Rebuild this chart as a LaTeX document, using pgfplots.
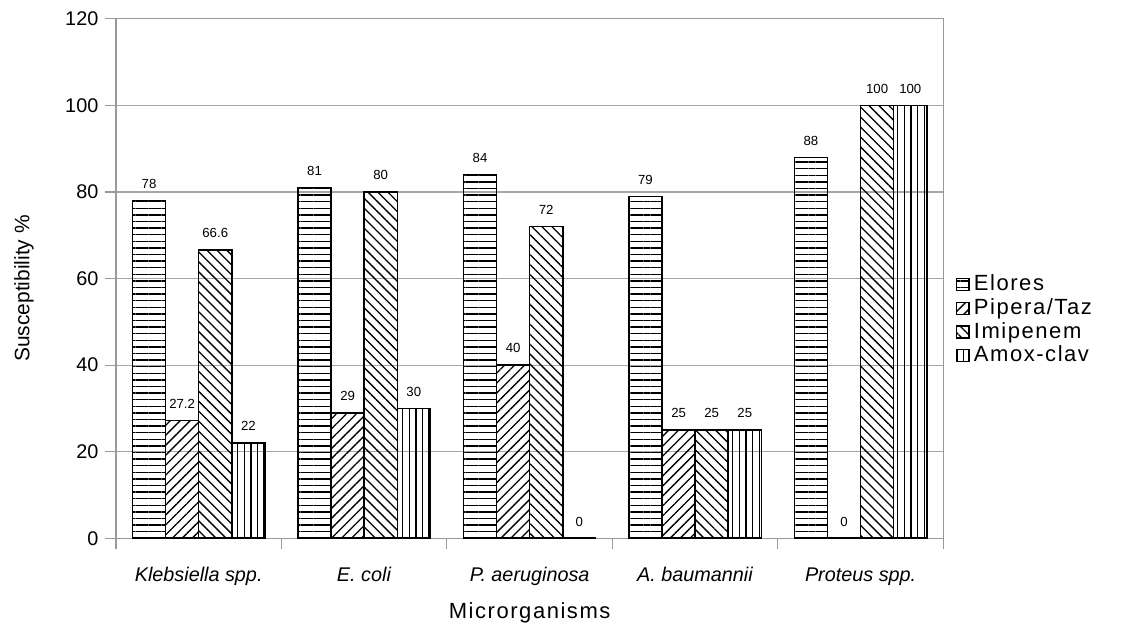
\documentclass[border=0pt]{standalone}
\usepackage{pgfplots}
\pgfplotsset{compat=1.18}
\usepackage{fontspec}
\setmainfont{Liberation Sans}
\newfontfamily\spaced[LetterSpace=7]{Liberation Sans}
\usetikzlibrary{patterns.meta}

\begin{document}
\begin{tikzpicture}
	\begin{axis}[
	name=ax,
	width=376pt, height=236pt,
	scale only axis,
	ymin=0, ymax=120,
	ytick={0,20,40,60,80,100,120},
	xmin=-0.5, xmax=4.5,
	xtick={0,1,2,3,4},
	xticklabels={\textit{Klebsiella spp.}, \textit{E. coli}, \textit{P. aeruginosa}, \textit{A. baumannii}, \textit{Proteus spp.}},
	major x tick style={draw=none},
	minor xtick={-0.5,0.5,1.5,2.5,3.5,4.5},
	minor tick length=5pt,
	major tick length=5pt,
	tick align=outside,
	tick style={gray!80, line width=0.5pt},
	axis line style={gray!80, line width=0.5pt},
	ymajorgrids=true,
	grid style={gray!70, line width=0.5pt},
	xtick pos=bottom, ytick pos=left,
	ticklabel style={font=\fontsize{9}{10}\selectfont},
	/pgf/number format/assume math mode=true,
	xticklabel style={yshift=-4pt, text height=7pt, text depth=2pt},
	yticklabel style={xshift=0.5pt},
	xlabel={\spaced Microrganisms},
	ylabel={Susceptibility \%},
	xlabel style={font=\fontsize{10}{11}\selectfont, yshift=-1pt},
	ylabel style={font=\fontsize{9.5}{11}\selectfont, at={(ticklabel cs:0.481)}, yshift=7.5pt},
	ybar=0pt,
	bar width=0.2,
	nodes near coords,
	nodes near coords style={font=\fontsize{6}{7}\selectfont, yshift=1.8pt},
	/pgf/number format/.cd, fixed, precision=1, assume math mode=true, /pgfplots/.cd,
	every axis plot/.append style={draw=black, line width=0.7pt},
	legend style={at={(1.012,0.42)}, anchor=west, draw=none, fill=none,
		font=\fontsize{10}{11}\selectfont\spaced, row sep=-2pt, inner sep=1pt},
	legend cell align=left,
	legend image code/.code={\draw[#1, line width=0.6pt] (0pt,-2.7pt) rectangle (5.6pt,2.7pt);},
	]

	\addplot [bar shift=-0.3, pattern={Lines[angle=0, distance=3pt, line width=0.6pt]}]
	coordinates {(0,78) (1,81) (2,84) (3,79) (4,88)};
	\addlegendentry{Elores}

	\addplot [bar shift=-0.1, pattern={Lines[angle=45, distance=3.2pt, line width=0.6pt]}]
	coordinates {(0,27.2) (1,29) (2,40) (3,25) (4,0)};
	\addlegendentry{Pipera/Taz}

	\addplot [bar shift=0.1, pattern={Lines[angle=-45, distance=3.2pt, line width=0.6pt]}]
	coordinates {(0,66.6) (1,80) (2,72) (3,25) (4,100)};
	\addlegendentry{Imipenem}

	\addplot [bar shift=0.3, pattern={Lines[angle=90, distance=3pt, line width=0.6pt]}]
	coordinates {(0,22) (1,30) (2,0) (3,25) (4,100)};
	\addlegendentry{Amox-clav}

	\end{axis}
	\path ([shift={(-52.7pt,-39.5pt)}]ax.south west) rectangle ([shift={(88pt,8.6pt)}]ax.north east);
\end{tikzpicture}
\end{document}
